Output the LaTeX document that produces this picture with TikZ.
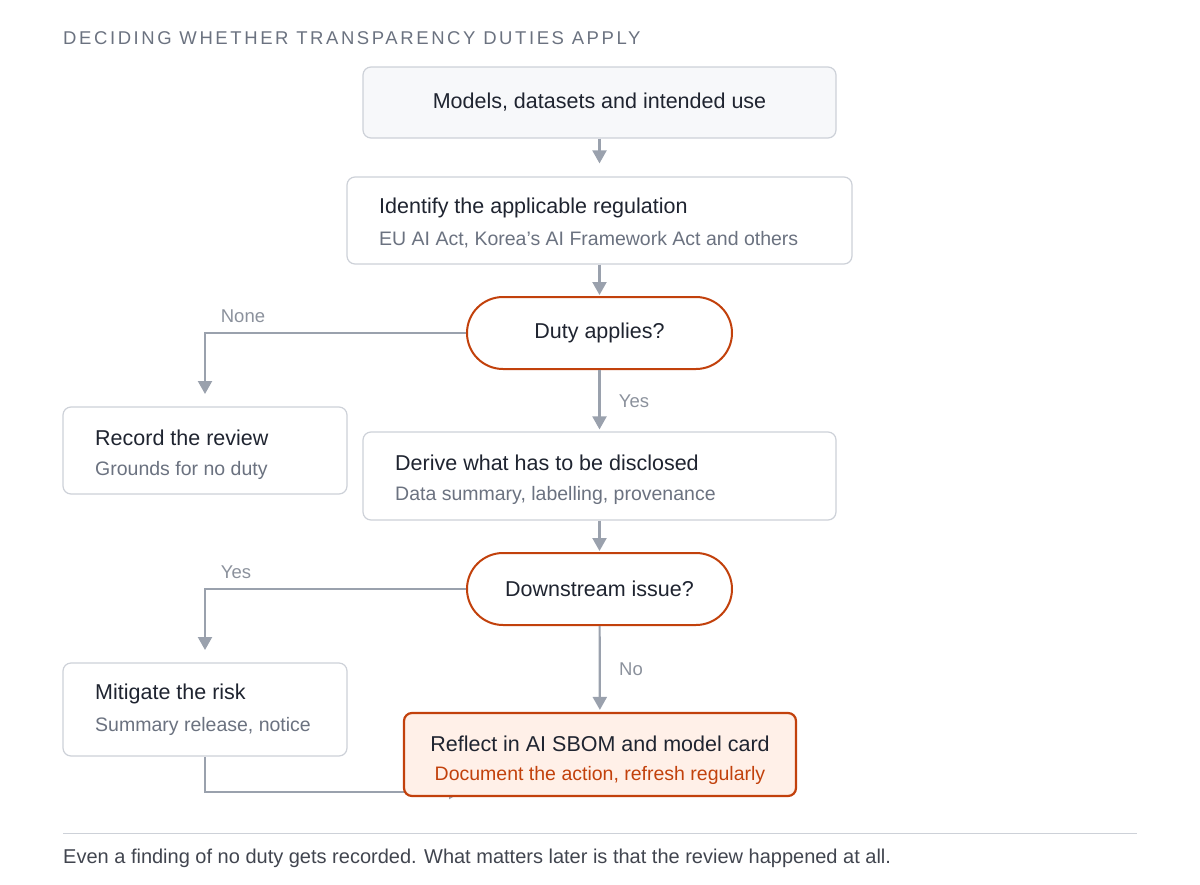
\documentclass[tikz,border=0pt]{standalone}
\usepackage{fontspec}
\setmainfont{Liberation Sans}
\usetikzlibrary{arrows.meta,backgrounds}
\definecolor{ink}{HTML}{1F2430}
\definecolor{muted}{HTML}{6B7280}
\definecolor{edge}{HTML}{CDD1D8}
\definecolor{wire}{HTML}{9AA1AD}
\definecolor{rust}{HTML}{C2410C}
\definecolor{peach}{HTML}{FFF0E8}
\definecolor{paper}{HTML}{F7F8FA}
\tikzset{
  box/.style={draw=edge, line width=1.2pt, rounded corners=8pt, fill=white, inner sep=0pt},
  pill/.style={draw=rust, line width=2pt, rounded corners=36pt, fill=white, inner sep=0pt,
    minimum width=265pt, minimum height=72pt, font=\fontsize{21.5}{25}\selectfont, text=ink},
  head/.style={font=\fontsize{21.5}{25}\selectfont, text=ink, inner sep=0pt},
  sub/.style={font=\fontsize{19.5}{23}\selectfont, text=muted, inner sep=0pt},
  tag/.style={font=\fontsize{18.5}{22}\selectfont, text=wire!90!black, inner sep=0pt},
  flow/.style={draw=wire, line width=2.2pt, -{Triangle[width=14pt,length=13pt]}},
}
\begin{document}
\begin{tikzpicture}[x=1pt,y=-1pt]
\useasboundingbox (0,0) rectangle (1200,884);
% title
\node[anchor=west, inner sep=0pt, text=muted, font=\fontsize{18.5}{22}\selectfont] (title) at (63,38)
  {\addfontfeature{LetterSpace=14}DECIDING WHETHER TRANSPARENCY DUTIES APPLY};
% boxes
\node[box, fill=paper, minimum width=473pt, minimum height=71pt, head] (inputs) at (599.5,102.5) {Models, datasets and intended use};
\node[box, minimum width=505pt, minimum height=87pt] (regulation) at (599.5,220.5) {};
\node[head, anchor=west] at (379,208) {Identify the applicable regulation};
\node[sub, anchor=west] at (379,240) {EU AI Act, Korea\char"0027 s AI Framework Act and others};
\node[pill] (duty) at (599.5,333) {Duty applies?};
\node[box, minimum width=284pt, minimum height=87pt] (record) at (205,450.5) {};
\node[head, anchor=west] at (95,438) {Record the review};
\node[sub, anchor=west] at (95,470) {Grounds for no duty};
\node[box, minimum width=473pt, minimum height=88pt] (derive) at (599.5,476) {};
\node[head, anchor=west] at (395,463) {Derive what has to be disclosed};
\node[sub, anchor=west] at (395,495) {Data summary, labelling, provenance};
\node[pill] (downstream) at (599.5,589) {Downstream issue?};
\node[box, minimum width=284pt, minimum height=93pt] (mitigate) at (205,709.5) {};
\node[head, anchor=west] at (95,694) {Mitigate the risk};
\node[sub, anchor=west] at (95,726) {Summary release, notice};
\node[box, draw=rust, fill=peach, line width=2.2pt, minimum width=392pt, minimum height=83pt] (reflect) at (600,754.5) {};
\node[head] at (600,744) {Reflect in AI SBOM and model card};
\node[sub, text=rust] at (600,775) {Document the action, refresh regularly};
% connectors
\coordinate (noneEnd) at (205,394);
\coordinate (yesEnd) at (205,650);
\coordinate (backEnd) at (462,792);
\draw[flow, shorten >=13pt] (inputs) -- (regulation);
\draw[flow, shorten >=1pt] (regulation) -- (duty);
\draw[flow] (duty.west) -| (noneEnd);
\draw[flow, shorten >=2pt] (duty) -- (derive);
\draw[flow, shorten >=1pt] (derive) -- (downstream);
\draw[flow] (downstream.west) -| (yesEnd);
\draw[flow, shorten >=2pt] (downstream) -- (reflect);
\begin{scope}[on background layer]
\draw[flow] (mitigate.south) |- (backEnd);
\end{scope}
% labels
\node[tag] at (243,316) {None};
\node[tag] at (634,401) {Yes};
\node[tag] at (236,572) {Yes};
\node[tag] at (631,669) {No};
% footer
\draw[edge, line width=1pt] (63,833) -- (1137,833);
\node[anchor=west, inner sep=0pt, text=ink!85, font=\fontsize{20}{24}\selectfont] (note) at (63,858)
  {Even a finding of no duty gets recorded. What matters later is that the review happened at all.};
\end{tikzpicture}
\end{document}
